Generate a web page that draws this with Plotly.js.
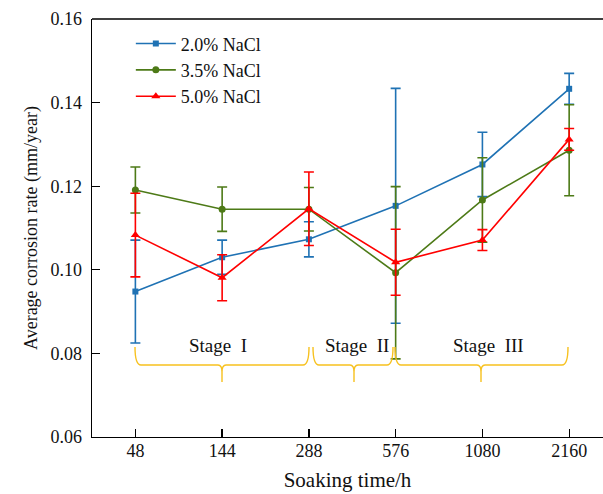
<!DOCTYPE html>
<html><head><meta charset="utf-8">
<script src="https://cdn.plot.ly/plotly-3.0.1.min.js"></script>
<style>html,body{margin:0;padding:0;background:#fff}</style>
</head><body>
<div id="chart" style="width:603px;height:494px"></div>
<script>
var categories = ["48", "144", "288", "576", "1080", "2160"];
var names = ["2.0% NaCl", "3.5% NaCl", "5.0% NaCl"];
var nacl20 = [0.0948, 0.1030, 0.1073, 0.1153, 0.1252, 0.1433];
var nacl20Err = [0.0123, 0.0041, 0.0042, 0.0281, 0.0077, 0.0037];
var nacl35 = [0.1191, 0.1145, 0.1145, 0.0993, 0.1167, 0.1286];
var nacl35Err = [0.0055, 0.0053, 0.0052, 0.0206, 0.0101, 0.0109];
var nacl50 = [0.1083, 0.0981, 0.1146, 0.1018, 0.1071, 0.1312];
var nacl50Err = [0.0100, 0.0055, 0.0088, 0.0079, 0.0025, 0.0026];
var stageLabels = ["Stage  I", "Stage  II", "Stage  III"];

var colors = ["#1f72b4", "#4d7a17", "#ff0000"];
var symbols = ["square", "circle", "triangle-up"];
var sizes = [6, 7, 8];
var series = [nacl20, nacl35, nacl50];
var errs = [nacl20Err, nacl35Err, nacl50Err];
var font = "'Liberation Serif', 'Times New Roman', serif";

var traces = series.map(function (s, i) {
  return {
    x: categories, y: s, name: names[i], type: "scatter", mode: "lines+markers",
    line: {color: colors[i], width: 1.6},
    marker: {color: colors[i], symbol: symbols[i], size: sizes[i]},
    error_y: {type: "data", array: errs[i], visible: true, color: colors[i], thickness: 1.6, width: 5}
  };
});

// geometry helpers for annotation braces (paper coords)
var L = 92, R = 603, T = 19, B = 437;
function px(v) { return (v - L) / (R - L); }
function py(v) { return (B - v) / (B - T); }
function brace(x1, xm, x2) {
  var yTop = py(347), yH = py(365), yTip = py(382);
  var d = 4 / (R - L);
  return "M " + px(x1) + "," + yTop +
    " Q " + px(x1) + "," + yH + " " + (px(x1) + d * 1.5) + "," + yH +
    " L " + (px(xm) - d) + "," + yH +
    " Q " + px(xm) + "," + yH + " " + px(xm) + "," + py(372) +
    " L " + px(xm) + "," + yTip +
    " M " + px(xm) + "," + py(372) +
    " Q " + px(xm) + "," + yH + " " + (px(xm) + d) + "," + yH +
    " L " + (px(x2) - d * 1.5) + "," + yH +
    " Q " + px(x2) + "," + yH + " " + px(x2) + "," + yTop;
}
var braceColor = "#f7c11e";
var shapes = [
  {type: "path", xref: "paper", yref: "paper", path: brace(135, 222, 309), line: {color: braceColor, width: 1.4}},
  {type: "path", xref: "paper", yref: "paper", path: brace(313, 354, 393), line: {color: braceColor, width: 1.4}},
  {type: "path", xref: "paper", yref: "paper", path: brace(395, 481, 568), line: {color: braceColor, width: 1.4}},
  {type: "line", xref: "paper", yref: "paper", x0: 0, x1: 1, y0: 1, y1: 1, line: {color: "#000", width: 1.3}}
];
var annXs = [218, 357, 488];
var annotations = stageLabels.map(function (t, i) {
  return {text: t, xref: "paper", yref: "paper", x: px(annXs[i]), y: py(345), showarrow: false,
    font: {family: font, size: 19, color: "#111"}, xanchor: "center", yanchor: "middle"};
});

var layout = {
  width: 603, height: 494,
  margin: {l: L, r: 0, t: T, b: 494 - B},
  paper_bgcolor: "#fff", plot_bgcolor: "#fff",
  font: {family: font, color: "#111", size: 18},
  showlegend: true,
  legend: {x: 0.076, y: 0.985, xanchor: "left", yanchor: "top", bgcolor: "rgba(0,0,0,0)",
    font: {family: font, size: 18, color: "#111"}, tracegroupgap: 0, itemwidth: 40},
  xaxis: {
    type: "category", range: [-0.5, 5.39],
    showline: true, linecolor: "#000", linewidth: 1.3, mirror: false,
    ticks: "inside", ticklen: 8, tickcolor: "#000", tickwidth: 1.3,
    showgrid: false, zeroline: false,
    tickfont: {family: font, size: 18, color: "#111"},
    ticklabelstandoff: -3,
    title: {text: "Soaking time/h", font: {family: font, size: 21, color: "#111"}, standoff: 12}
  },
  yaxis: {
    range: [0.06, 0.16], dtick: 0.02, tickformat: ".2f",
    showline: true, linecolor: "#000", linewidth: 1.3,
    ticks: "inside", ticklen: 8, tickcolor: "#000", tickwidth: 1.3,
    showgrid: false, zeroline: false,
    tickfont: {family: font, size: 18, color: "#111"},
    ticklabelstandoff: 5,
    title: {text: "Average corrosion rate (mm/year)", font: {family: font, size: 18, color: "#111"}, standoff: 8}
  },
  shapes: shapes,
  annotations: annotations
};
Plotly.newPlot("chart", traces, layout, {displayModeBar: false, staticPlot: true});
</script>
</body></html>
